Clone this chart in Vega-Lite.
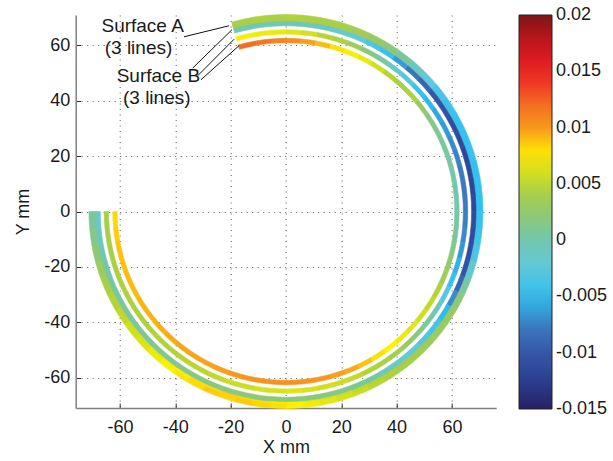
{
  "$schema": "https://vega.github.io/schema/vega-lite/v6.json",
  "autosize": {"type": "none"},
  "padding": {"left": 75.7, "top": 15, "right": 116.8, "bottom": 53},
  "width": 420.5,
  "height": 393,
  "background": "white",
  "config": {
    "locale": {"number": {"decimal": ".", "thousands": ",", "grouping": [3], "currency": ["$", ""], "minus": "-"}},
    "view": {"stroke": null},
    "axis": {
      "labelFont": "Liberation Sans", "labelFontSize": 18, "labelColor": "#1a1a1a",
      "titleFont": "Liberation Sans", "titleFontSize": 18, "titleFontWeight": "normal", "titleColor": "#1a1a1a",
      "domainColor": "#808080", "domainWidth": 1.5,
      "tickColor": "#333333", "tickSize": -5, "tickWidth": 1,
      "gridColor": "#333333", "gridDash": [1, 4.5], "gridOpacity": 0.8, "gridWidth": 1
    },
    "axisX": {"labelPadding": 15.5, "titlePadding": 2},
    "axisY": {"labelPadding": 11, "titlePadding": 11},
    "legend": {"gradientVerticalMaxLength": 500, "gradientLabelLimit": 120}
  },
  "data": {"values": [
    {"s":"A2","r":69.15,"a":-16,"b":-10,"v":0.0038},{"s":"A2","r":69.15,"a":-10,"b":-5,"v":0.0043},{"s":"A2","r":69.15,"a":-5,"b":0,"v":0.0045},{"s":"A2","r":69.15,"a":0,"b":5,"v":0.0044},{"s":"A2","r":69.15,"a":5,"b":10,"v":0.0046},{"s":"A2","r":69.15,"a":10,"b":15,"v":0.004},{"s":"A2","r":69.15,"a":15,"b":20,"v":0.0041},{"s":"A2","r":69.15,"a":20,"b":25,"v":0.0033},{"s":"A2","r":69.15,"a":25,"b":30,"v":0.0028},{"s":"A2","r":69.15,"a":30,"b":35,"v":0.0018},{"s":"A2","r":69.15,"a":35,"b":40,"v":0.0005},{"s":"A2","r":69.15,"a":40,"b":45,"v":-0.0013},{"s":"A2","r":69.15,"a":45,"b":50,"v":-0.0028},{"s":"A2","r":69.15,"a":50,"b":55,"v":-0.0038},{"s":"A2","r":69.15,"a":55,"b":60,"v":-0.0043},{"s":"A2","r":69.15,"a":60,"b":65,"v":-0.0046},{"s":"A2","r":69.15,"a":65,"b":70,"v":-0.0044},{"s":"A2","r":69.15,"a":70,"b":75,"v":-0.0048},{"s":"A2","r":69.15,"a":75,"b":80,"v":-0.0045},{"s":"A2","r":69.15,"a":80,"b":85,"v":-0.0049},{"s":"A2","r":69.15,"a":85,"b":90,"v":-0.0046},{"s":"A2","r":69.15,"a":90,"b":95,"v":-0.0045},{"s":"A2","r":69.15,"a":95,"b":100,"v":-0.004},{"s":"A2","r":69.15,"a":100,"b":105,"v":-0.0036},{"s":"A2","r":69.15,"a":105,"b":110,"v":-0.0022},{"s":"A2","r":69.15,"a":110,"b":115,"v":0.0},{"s":"A2","r":69.15,"a":115,"b":120,"v":0.0018},{"s":"A2","r":69.15,"a":120,"b":125,"v":0.0026},{"s":"A2","r":69.15,"a":125,"b":130,"v":0.0029},{"s":"A2","r":69.15,"a":130,"b":135,"v":0.003},{"s":"A2","r":69.15,"a":135,"b":140,"v":0.0034},{"s":"A2","r":69.15,"a":140,"b":145,"v":0.0038},{"s":"A2","r":69.15,"a":145,"b":150,"v":0.0044},{"s":"A2","r":69.15,"a":150,"b":155,"v":0.0049},{"s":"A2","r":69.15,"a":155,"b":160,"v":0.0054},{"s":"A2","r":69.15,"a":160,"b":165,"v":0.0059},{"s":"A2","r":69.15,"a":165,"b":170,"v":0.0063},{"s":"A2","r":69.15,"a":170,"b":175,"v":0.0068},{"s":"A2","r":69.15,"a":175,"b":180,"v":0.0073},{"s":"A2","r":69.15,"a":180,"b":185,"v":0.0077},{"s":"A2","r":69.15,"a":185,"b":190,"v":0.008},{"s":"A2","r":69.15,"a":190,"b":195,"v":0.0082},{"s":"A2","r":69.15,"a":195,"b":200,"v":0.0085},{"s":"A2","r":69.15,"a":200,"b":205,"v":0.0081},{"s":"A2","r":69.15,"a":205,"b":210,"v":0.008},{"s":"A2","r":69.15,"a":210,"b":215,"v":0.0076},{"s":"A2","r":69.15,"a":215,"b":220,"v":0.0071},{"s":"A2","r":69.15,"a":220,"b":225,"v":0.0067},{"s":"A2","r":69.15,"a":225,"b":230,"v":0.0061},{"s":"A2","r":69.15,"a":230,"b":235,"v":0.0057},{"s":"A2","r":69.15,"a":235,"b":240,"v":0.0052},{"s":"A2","r":69.15,"a":240,"b":245,"v":0.0046},{"s":"A2","r":69.15,"a":245,"b":250,"v":0.0038},{"s":"A2","r":69.15,"a":250,"b":255,"v":0.003},{"s":"A2","r":69.15,"a":255,"b":260,"v":0.002},{"s":"A2","r":69.15,"a":260,"b":265,"v":0.0012},{"s":"A2","r":69.15,"a":265,"b":270,"v":0.0005},
    {"s":"A3","r":67.9,"a":-16,"b":-10,"v":-0.0003},{"s":"A3","r":67.9,"a":-10,"b":-5,"v":-0.0005},{"s":"A3","r":67.9,"a":-5,"b":0,"v":-0.0004},{"s":"A3","r":67.9,"a":0,"b":5,"v":-0.0006},{"s":"A3","r":67.9,"a":5,"b":10,"v":-0.0008},{"s":"A3","r":67.9,"a":10,"b":15,"v":-0.001},{"s":"A3","r":67.9,"a":15,"b":20,"v":-0.0016},{"s":"A3","r":67.9,"a":20,"b":25,"v":-0.0025},{"s":"A3","r":67.9,"a":25,"b":30,"v":-0.0035},{"s":"A3","r":67.9,"a":30,"b":35,"v":-0.0045},{"s":"A3","r":67.9,"a":35,"b":40,"v":-0.0063},{"s":"A3","r":67.9,"a":40,"b":45,"v":-0.008},{"s":"A3","r":67.9,"a":45,"b":50,"v":-0.009},{"s":"A3","r":67.9,"a":50,"b":55,"v":-0.01},{"s":"A3","r":67.9,"a":55,"b":60,"v":-0.0106},{"s":"A3","r":67.9,"a":60,"b":65,"v":-0.011},{"s":"A3","r":67.9,"a":65,"b":70,"v":-0.0113},{"s":"A3","r":67.9,"a":70,"b":75,"v":-0.0116},{"s":"A3","r":67.9,"a":75,"b":80,"v":-0.0114},{"s":"A3","r":67.9,"a":80,"b":85,"v":-0.0118},{"s":"A3","r":67.9,"a":85,"b":90,"v":-0.0115},{"s":"A3","r":67.9,"a":90,"b":95,"v":-0.0111},{"s":"A3","r":67.9,"a":95,"b":100,"v":-0.0113},{"s":"A3","r":67.9,"a":100,"b":105,"v":-0.0109},{"s":"A3","r":67.9,"a":105,"b":110,"v":-0.0104},{"s":"A3","r":67.9,"a":110,"b":115,"v":-0.009},{"s":"A3","r":67.9,"a":115,"b":120,"v":-0.007},{"s":"A3","r":67.9,"a":120,"b":125,"v":-0.0052},{"s":"A3","r":67.9,"a":125,"b":130,"v":-0.004},{"s":"A3","r":67.9,"a":130,"b":135,"v":-0.0031},{"s":"A3","r":67.9,"a":135,"b":140,"v":-0.0025},{"s":"A3","r":67.9,"a":140,"b":145,"v":-0.0019},{"s":"A3","r":67.9,"a":145,"b":150,"v":-0.001},{"s":"A3","r":67.9,"a":150,"b":155,"v":0.0},{"s":"A3","r":67.9,"a":155,"b":160,"v":0.0008},{"s":"A3","r":67.9,"a":160,"b":165,"v":0.0012},{"s":"A3","r":67.9,"a":165,"b":170,"v":0.0015},{"s":"A3","r":67.9,"a":170,"b":175,"v":0.0018},{"s":"A3","r":67.9,"a":175,"b":180,"v":0.002},{"s":"A3","r":67.9,"a":180,"b":185,"v":0.0021},{"s":"A3","r":67.9,"a":185,"b":190,"v":0.0019},{"s":"A3","r":67.9,"a":190,"b":195,"v":0.002},{"s":"A3","r":67.9,"a":195,"b":200,"v":0.0017},{"s":"A3","r":67.9,"a":200,"b":205,"v":0.0016},{"s":"A3","r":67.9,"a":205,"b":210,"v":0.0014},{"s":"A3","r":67.9,"a":210,"b":215,"v":0.0013},{"s":"A3","r":67.9,"a":215,"b":220,"v":0.001},{"s":"A3","r":67.9,"a":220,"b":225,"v":0.0011},{"s":"A3","r":67.9,"a":225,"b":230,"v":0.0008},{"s":"A3","r":67.9,"a":230,"b":235,"v":0.0006},{"s":"A3","r":67.9,"a":235,"b":240,"v":0.0005},{"s":"A3","r":67.9,"a":240,"b":245,"v":0.0004},{"s":"A3","r":67.9,"a":245,"b":250,"v":0.0002},{"s":"A3","r":67.9,"a":250,"b":255,"v":0.0},{"s":"A3","r":67.9,"a":255,"b":260,"v":-0.0005},{"s":"A3","r":67.9,"a":260,"b":265,"v":-0.001},{"s":"A3","r":67.9,"a":265,"b":270,"v":-0.0013},
    {"s":"A1","r":70.4,"a":-16,"b":-10,"v":0.004},{"s":"A1","r":70.4,"a":-10,"b":-5,"v":0.0046},{"s":"A1","r":70.4,"a":-5,"b":0,"v":0.0043},{"s":"A1","r":70.4,"a":0,"b":5,"v":0.0047},{"s":"A1","r":70.4,"a":5,"b":10,"v":0.0044},{"s":"A1","r":70.4,"a":10,"b":15,"v":0.0042},{"s":"A1","r":70.4,"a":15,"b":20,"v":0.004},{"s":"A1","r":70.4,"a":20,"b":25,"v":0.0036},{"s":"A1","r":70.4,"a":25,"b":30,"v":0.003},{"s":"A1","r":70.4,"a":30,"b":35,"v":0.0022},{"s":"A1","r":70.4,"a":35,"b":40,"v":0.0008},{"s":"A1","r":70.4,"a":40,"b":45,"v":-0.001},{"s":"A1","r":70.4,"a":45,"b":50,"v":-0.0025},{"s":"A1","r":70.4,"a":50,"b":55,"v":-0.0035},{"s":"A1","r":70.4,"a":55,"b":60,"v":-0.0041},{"s":"A1","r":70.4,"a":60,"b":65,"v":-0.0044},{"s":"A1","r":70.4,"a":65,"b":70,"v":-0.0046},{"s":"A1","r":70.4,"a":70,"b":75,"v":-0.0043},{"s":"A1","r":70.4,"a":75,"b":80,"v":-0.0047},{"s":"A1","r":70.4,"a":80,"b":85,"v":-0.0045},{"s":"A1","r":70.4,"a":85,"b":90,"v":-0.0048},{"s":"A1","r":70.4,"a":90,"b":95,"v":-0.0043},{"s":"A1","r":70.4,"a":95,"b":100,"v":-0.0041},{"s":"A1","r":70.4,"a":100,"b":105,"v":-0.0034},{"s":"A1","r":70.4,"a":105,"b":110,"v":-0.0018},{"s":"A1","r":70.4,"a":110,"b":115,"v":0.0005},{"s":"A1","r":70.4,"a":115,"b":120,"v":0.0022},{"s":"A1","r":70.4,"a":120,"b":125,"v":0.003},{"s":"A1","r":70.4,"a":125,"b":130,"v":0.0031},{"s":"A1","r":70.4,"a":130,"b":135,"v":0.0034},{"s":"A1","r":70.4,"a":135,"b":140,"v":0.0036},{"s":"A1","r":70.4,"a":140,"b":145,"v":0.0041},{"s":"A1","r":70.4,"a":145,"b":150,"v":0.0046},{"s":"A1","r":70.4,"a":150,"b":155,"v":0.0052},{"s":"A1","r":70.4,"a":155,"b":160,"v":0.0057},{"s":"A1","r":70.4,"a":160,"b":165,"v":0.0061},{"s":"A1","r":70.4,"a":165,"b":170,"v":0.0066},{"s":"A1","r":70.4,"a":170,"b":175,"v":0.0071},{"s":"A1","r":70.4,"a":175,"b":180,"v":0.0076},{"s":"A1","r":70.4,"a":180,"b":185,"v":0.008},{"s":"A1","r":70.4,"a":185,"b":190,"v":0.0083},{"s":"A1","r":70.4,"a":190,"b":195,"v":0.0086},{"s":"A1","r":70.4,"a":195,"b":200,"v":0.0084},{"s":"A1","r":70.4,"a":200,"b":205,"v":0.0086},{"s":"A1","r":70.4,"a":205,"b":210,"v":0.0082},{"s":"A1","r":70.4,"a":210,"b":215,"v":0.0079},{"s":"A1","r":70.4,"a":215,"b":220,"v":0.0074},{"s":"A1","r":70.4,"a":220,"b":225,"v":0.0069},{"s":"A1","r":70.4,"a":225,"b":230,"v":0.0064},{"s":"A1","r":70.4,"a":230,"b":235,"v":0.006},{"s":"A1","r":70.4,"a":235,"b":240,"v":0.0055},{"s":"A1","r":70.4,"a":240,"b":245,"v":0.005},{"s":"A1","r":70.4,"a":245,"b":250,"v":0.0042},{"s":"A1","r":70.4,"a":250,"b":255,"v":0.0034},{"s":"A1","r":70.4,"a":255,"b":260,"v":0.0024},{"s":"A1","r":70.4,"a":260,"b":265,"v":0.0015},{"s":"A1","r":70.4,"a":265,"b":270,"v":0.0008},
    {"s":"B1","r":64.9,"a":-16,"b":-10,"v":0.0072},{"s":"B1","r":64.9,"a":-10,"b":-5,"v":0.007},{"s":"B1","r":64.9,"a":-5,"b":0,"v":0.0068},{"s":"B1","r":64.9,"a":0,"b":5,"v":0.0065},{"s":"B1","r":64.9,"a":5,"b":10,"v":0.006},{"s":"B1","r":64.9,"a":10,"b":15,"v":0.0052},{"s":"B1","r":64.9,"a":15,"b":20,"v":0.0045},{"s":"B1","r":64.9,"a":20,"b":25,"v":0.0035},{"s":"B1","r":64.9,"a":25,"b":30,"v":0.002},{"s":"B1","r":64.9,"a":30,"b":35,"v":0.0005},{"s":"B1","r":64.9,"a":35,"b":40,"v":-0.0015},{"s":"B1","r":64.9,"a":40,"b":45,"v":-0.003},{"s":"B1","r":64.9,"a":45,"b":50,"v":-0.0045},{"s":"B1","r":64.9,"a":50,"b":55,"v":-0.0052},{"s":"B1","r":64.9,"a":55,"b":60,"v":-0.006},{"s":"B1","r":64.9,"a":60,"b":65,"v":-0.0064},{"s":"B1","r":64.9,"a":65,"b":70,"v":-0.0069},{"s":"B1","r":64.9,"a":70,"b":75,"v":-0.0072},{"s":"B1","r":64.9,"a":75,"b":80,"v":-0.0076},{"s":"B1","r":64.9,"a":80,"b":85,"v":-0.0078},{"s":"B1","r":64.9,"a":85,"b":90,"v":-0.0075},{"s":"B1","r":64.9,"a":90,"b":95,"v":-0.0073},{"s":"B1","r":64.9,"a":95,"b":100,"v":-0.007},{"s":"B1","r":64.9,"a":100,"b":105,"v":-0.0065},{"s":"B1","r":64.9,"a":105,"b":110,"v":-0.0055},{"s":"B1","r":64.9,"a":110,"b":115,"v":-0.0045},{"s":"B1","r":64.9,"a":115,"b":120,"v":-0.003},{"s":"B1","r":64.9,"a":120,"b":125,"v":-0.001},{"s":"B1","r":64.9,"a":125,"b":130,"v":0.0005},{"s":"B1","r":64.9,"a":130,"b":135,"v":0.0018},{"s":"B1","r":64.9,"a":135,"b":140,"v":0.003},{"s":"B1","r":64.9,"a":140,"b":145,"v":0.0038},{"s":"B1","r":64.9,"a":145,"b":150,"v":0.0045},{"s":"B1","r":64.9,"a":150,"b":155,"v":0.005},{"s":"B1","r":64.9,"a":155,"b":160,"v":0.0055},{"s":"B1","r":64.9,"a":160,"b":165,"v":0.0058},{"s":"B1","r":64.9,"a":165,"b":170,"v":0.006},{"s":"B1","r":64.9,"a":170,"b":175,"v":0.0062},{"s":"B1","r":64.9,"a":175,"b":180,"v":0.0064},{"s":"B1","r":64.9,"a":180,"b":185,"v":0.0062},{"s":"B1","r":64.9,"a":185,"b":190,"v":0.0061},{"s":"B1","r":64.9,"a":190,"b":195,"v":0.0058},{"s":"B1","r":64.9,"a":195,"b":200,"v":0.0057},{"s":"B1","r":64.9,"a":200,"b":205,"v":0.0055},{"s":"B1","r":64.9,"a":205,"b":210,"v":0.0053},{"s":"B1","r":64.9,"a":210,"b":215,"v":0.0052},{"s":"B1","r":64.9,"a":215,"b":220,"v":0.005},{"s":"B1","r":64.9,"a":220,"b":225,"v":0.0048},{"s":"B1","r":64.9,"a":225,"b":230,"v":0.0047},{"s":"B1","r":64.9,"a":230,"b":235,"v":0.0046},{"s":"B1","r":64.9,"a":235,"b":240,"v":0.0045},{"s":"B1","r":64.9,"a":240,"b":245,"v":0.0046},{"s":"B1","r":64.9,"a":245,"b":250,"v":0.0044},{"s":"B1","r":64.9,"a":250,"b":255,"v":0.0043},{"s":"B1","r":64.9,"a":255,"b":260,"v":0.0042},{"s":"B1","r":64.9,"a":260,"b":265,"v":0.0041},{"s":"B1","r":64.9,"a":265,"b":270,"v":0.004},
    {"s":"B2","r":61.8,"a":-16,"b":-10,"v":0.012},{"s":"B2","r":61.8,"a":-10,"b":-5,"v":0.0115},{"s":"B2","r":61.8,"a":-5,"b":0,"v":0.011},{"s":"B2","r":61.8,"a":0,"b":5,"v":0.0105},{"s":"B2","r":61.8,"a":5,"b":10,"v":0.0098},{"s":"B2","r":61.8,"a":10,"b":15,"v":0.009},{"s":"B2","r":61.8,"a":15,"b":20,"v":0.008},{"s":"B2","r":61.8,"a":20,"b":25,"v":0.0072},{"s":"B2","r":61.8,"a":25,"b":30,"v":0.0068},{"s":"B2","r":61.8,"a":30,"b":35,"v":0.006},{"s":"B2","r":61.8,"a":35,"b":40,"v":0.005},{"s":"B2","r":61.8,"a":40,"b":45,"v":0.0042},{"s":"B2","r":61.8,"a":45,"b":50,"v":0.0045},{"s":"B2","r":61.8,"a":50,"b":55,"v":0.003},{"s":"B2","r":61.8,"a":55,"b":60,"v":0.0015},{"s":"B2","r":61.8,"a":60,"b":65,"v":0.001},{"s":"B2","r":61.8,"a":65,"b":70,"v":0.0008},{"s":"B2","r":61.8,"a":70,"b":75,"v":0.0005},{"s":"B2","r":61.8,"a":75,"b":80,"v":0.0003},{"s":"B2","r":61.8,"a":80,"b":85,"v":0.0},{"s":"B2","r":61.8,"a":85,"b":90,"v":0.0002},{"s":"B2","r":61.8,"a":90,"b":95,"v":0.0004},{"s":"B2","r":61.8,"a":95,"b":100,"v":0.0008},{"s":"B2","r":61.8,"a":100,"b":105,"v":0.0015},{"s":"B2","r":61.8,"a":105,"b":110,"v":0.0025},{"s":"B2","r":61.8,"a":110,"b":115,"v":0.0035},{"s":"B2","r":61.8,"a":115,"b":120,"v":0.0048},{"s":"B2","r":61.8,"a":120,"b":125,"v":0.0055},{"s":"B2","r":61.8,"a":125,"b":130,"v":0.006},{"s":"B2","r":61.8,"a":130,"b":135,"v":0.0065},{"s":"B2","r":61.8,"a":135,"b":140,"v":0.007},{"s":"B2","r":61.8,"a":140,"b":145,"v":0.0075},{"s":"B2","r":61.8,"a":145,"b":150,"v":0.008},{"s":"B2","r":61.8,"a":150,"b":155,"v":0.0088},{"s":"B2","r":61.8,"a":155,"b":160,"v":0.0095},{"s":"B2","r":61.8,"a":160,"b":165,"v":0.0098},{"s":"B2","r":61.8,"a":165,"b":170,"v":0.01},{"s":"B2","r":61.8,"a":170,"b":175,"v":0.0102},{"s":"B2","r":61.8,"a":175,"b":180,"v":0.0103},{"s":"B2","r":61.8,"a":180,"b":185,"v":0.0104},{"s":"B2","r":61.8,"a":185,"b":190,"v":0.0103},{"s":"B2","r":61.8,"a":190,"b":195,"v":0.0102},{"s":"B2","r":61.8,"a":195,"b":200,"v":0.01},{"s":"B2","r":61.8,"a":200,"b":205,"v":0.0098},{"s":"B2","r":61.8,"a":205,"b":210,"v":0.0097},{"s":"B2","r":61.8,"a":210,"b":215,"v":0.0096},{"s":"B2","r":61.8,"a":215,"b":220,"v":0.0096},{"s":"B2","r":61.8,"a":220,"b":225,"v":0.0095},{"s":"B2","r":61.8,"a":225,"b":230,"v":0.0094},{"s":"B2","r":61.8,"a":230,"b":235,"v":0.0093},{"s":"B2","r":61.8,"a":235,"b":240,"v":0.0092},{"s":"B2","r":61.8,"a":240,"b":245,"v":0.009},{"s":"B2","r":61.8,"a":245,"b":250,"v":0.009},{"s":"B2","r":61.8,"a":250,"b":255,"v":0.0088},{"s":"B2","r":61.8,"a":255,"b":260,"v":0.0088},{"s":"B2","r":61.8,"a":260,"b":265,"v":0.0085},{"s":"B2","r":61.8,"a":265,"b":270,"v":0.0082}
  ]},
  "layer": [
    {
      "mark": {"type": "arc", "radiusOffset": 2.2, "radius2Offset": -2.2, "stroke": {"expr": "scale('color', datum.v)"}, "strokeWidth": 0.6},
      "encoding": {
        "theta": {"field": "a", "type": "quantitative", "stack": null, "scale": {"domain": [0, 360], "range": [0, 6.283185307]}},
        "theta2": {"field": "b"},
        "radius": {"field": "r", "type": "quantitative", "scale": {"type": "linear", "domain": [0, 100], "range": [0, 276.7], "zero": true}},
        "radius2": {"field": "r"},
        "color": {
          "field": "v", "type": "quantitative",
          "scale": {
            "domain": [-0.015, -0.0125, -0.01, -0.0075, -0.005, -0.0025, 0, 0.0025, 0.005, 0.0075, 0.01, 0.0125, 0.015, 0.0175, 0.02],
            "range": ["#262262", "#2c3e92", "#3656a6", "#3b7cc0", "#2cc0f0", "#62c8dc", "#72c7ad", "#92c86e", "#b4d334", "#fff200", "#f7981d", "#f26322", "#ed1c24", "#c4161c", "#7d1416"],
            "interpolate": "rgb"
          },
          "legend": {
            "type": "gradient",
            "title": null, "orient": "none", "legendX": 443.3, "legendY": 0, "direction": "vertical",
            "gradientLength": 394, "gradientThickness": 33,
            "values": [-0.015, -0.01, -0.005, 0, 0.005, 0.01, 0.015, 0.02],
            "format": ".3~f", "labelFont": "Liberation Sans", "labelFontSize": 18, "labelColor": "#1a1a1a",
            "labelOffset": 4, "labelLimit": 120, "labelOverlap": false,
            "gradientStrokeColor": "#222222", "gradientStrokeWidth": 1,
            "encode": {"labels": {"update": {"baseline": {"value": "middle"}}}}
          }
        }
      }
    },
    {
      "data": {"values": [
        {"x": -36.87, "y": 63.12, "x2": -20.6, "y2": 67.1},
        {"x": -33.73, "y": 51.81, "x2": -19.52, "y2": 65.66},
        {"x": -31.92, "y": 49.03, "x2": -18.69, "y2": 62.29},
        {"x": -30.73, "y": 47.59, "x2": -16.88, "y2": 59.98}
      ]},
      "mark": {"type": "rule", "color": "#111111", "strokeWidth": 1},
      "encoding": {
        "x": {"field": "x", "type": "quantitative", "scale": {"domain": [-76, 76], "nice": false, "zero": false}, "axis": {"title": "X mm", "values": [-60, -40, -20, 0, 20, 40, 60], "grid": true}},
        "y": {"field": "y", "type": "quantitative", "scale": {"domain": [-71, 71], "nice": false, "zero": false}, "axis": {"title": "Y mm", "values": [-60, -40, -20, 0, 20, 40, 60], "grid": true}},
        "x2": {"field": "x2"},
        "y2": {"field": "y2"}
      }
    },
    {
      "data": {"values": [
        {"x": -51.8, "y": 67.2, "t": "Surface A"},
        {"x": -53.3, "y": 59.2, "t": "(3 lines)"},
        {"x": -46.1, "y": 49.0, "t": "Surface B"},
        {"x": -46.7, "y": 40.9, "t": "(3 lines)"}
      ]},
      "mark": {"type": "text", "font": "Liberation Sans", "fontSize": 19, "align": "center", "baseline": "middle", "color": "#1a1a1a"},
      "encoding": {
        "x": {"field": "x", "type": "quantitative"},
        "y": {"field": "y", "type": "quantitative"},
        "text": {"field": "t", "type": "nominal"}
      }
    }
  ]
}
